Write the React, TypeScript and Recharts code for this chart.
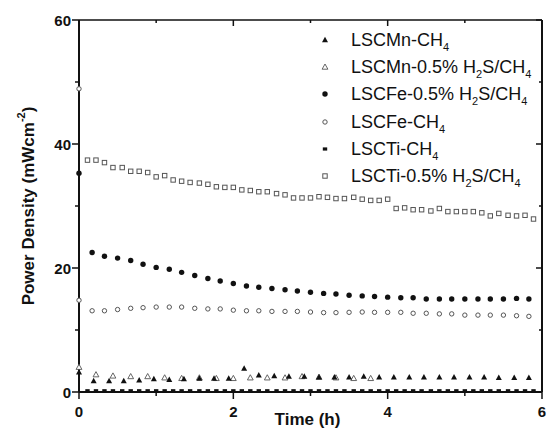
import { ScatterChart, Scatter, XAxis, YAxis } from "recharts";

// time (h) and power density (mW cm-2)
const squareTimes = [
  0.11, 0.22, 0.33, 0.44, 0.56, 0.67, 0.78, 0.89, 1.0, 1.11, 1.22, 1.33, 1.44, 1.56, 1.67, 1.78, 1.89, 2.0,
  2.11, 2.22, 2.33, 2.44, 2.56, 2.67, 2.78, 2.89, 3.0, 3.11, 3.22, 3.33, 3.44, 3.56, 3.67, 3.78, 3.89, 4.0,
  4.11, 4.22, 4.33, 4.44, 4.56, 4.67, 4.78, 4.89, 5.0, 5.11, 5.22, 5.33, 5.44, 5.56, 5.67, 5.78, 5.89,
];
const tiH2sValues = [
  37.4, 37.4, 37.0, 36.2, 36.2, 35.6, 35.6, 35.4, 34.7, 34.9, 34.2, 34.0, 33.8, 33.7, 33.5, 33.1, 33.0, 33.0,
  32.6, 32.5, 32.3, 32.3, 32.0, 31.8, 31.3, 31.3, 31.3, 31.5, 31.4, 31.2, 31.2, 31.4, 31.1, 30.9, 30.9, 31.1,
  29.6, 29.7, 29.4, 29.4, 29.2, 29.6, 29.1, 29.1, 29.1, 29.1, 28.9, 28.4, 28.8, 28.5, 28.4, 28.5, 27.9,
];
const tiCh4Values = [
  0.2, 0.2, 0.2, 0.2, 0.2, 0.2, 0.2, 0.2, 0.2, 0.2, 0.2, 0.2, 0.2, 0.2, 0.2, 0.2, 0.2, 0.2,
  0.2, 0.2, 0.2, 0.2, 0.2, 0.2, 0.2, 0.2, 0.2, 0.2, 0.2, 0.2, 0.2, 0.2, 0.2, 0.2, 0.2, 0.2,
  0.2, 0.2, 0.2, 0.2, 0.2, 0.2, 0.2, 0.2, 0.2, 0.2, 0.2, 0.2, 0.2, 0.2, 0.2, 0.2, 0.2,
];

const feH2sTimes = [
  0, 0.17, 0.33, 0.5, 0.67, 0.83, 1.0, 1.17, 1.33, 1.5, 1.67, 1.83, 2.0, 2.17, 2.33, 2.5, 2.67, 2.83, 3.0,
  3.17, 3.33, 3.5, 3.67, 3.83, 4.0, 4.17, 4.33, 4.5, 4.67, 4.83, 5.0, 5.17, 5.33, 5.5, 5.67, 5.83,
];
const feH2sValues = [
  35.3, 22.5, 21.9, 21.6, 21.2, 20.6, 20.1, 19.8, 19.3, 18.8, 18.3, 17.9, 17.5, 17.1, 16.9, 16.7, 16.5, 16.3, 16.1,
  15.9, 15.8, 15.6, 15.5, 15.4, 15.3, 15.2, 15.2, 15.0, 15.0, 15.0, 15.0, 15.0, 15.0, 15.0, 15.1, 15.0,
];
const feCh4Times = [
  0, 0, 0.17, 0.33, 0.5, 0.67, 0.83, 1.0, 1.17, 1.33, 1.5, 1.67, 1.83, 2.0, 2.17, 2.33, 2.5, 2.67, 2.83, 3.0,
  3.17, 3.33, 3.5, 3.67, 3.83, 4.0, 4.17, 4.33, 4.5, 4.67, 4.83, 5.0, 5.17, 5.33, 5.5, 5.67, 5.83,
];
const feCh4Values = [
  48.9, 14.8, 13.1, 13.1, 13.3, 13.5, 13.6, 13.7, 13.7, 13.7, 13.5, 13.4, 13.4, 13.2, 13.1, 13.1, 13.0, 13.0, 13.0, 12.9,
  12.8, 12.8, 12.85, 12.9, 12.85, 12.85, 12.85, 12.7, 12.7, 12.6, 12.6, 12.4, 12.4, 12.4, 12.4, 12.3, 12.2,
];

const mnCh4Times = [
  0, 0.19, 0.39, 0.58, 0.78, 0.97, 1.17, 1.36, 1.56, 1.75, 1.94, 2.14, 2.33, 2.53, 2.72, 2.92, 3.11,
  3.31, 3.5, 3.69, 3.89, 4.08, 4.28, 4.47, 4.67, 4.86, 5.06, 5.25, 5.44, 5.64, 5.83,
];
const mnCh4Values = [
  3.2, 1.8, 1.8, 1.8, 1.9, 2.1, 2.0, 2.1, 2.2, 2.2, 2.2, 3.8, 2.7, 2.6, 2.5, 2.5, 2.4,
  2.4, 2.4, 2.5, 2.4, 2.4, 2.4, 2.4, 2.4, 2.4, 2.4, 2.4, 2.3, 2.3, 2.3,
];
const mnH2sTimes = [0, 0.22, 0.44, 0.67, 0.89, 1.11, 1.33, 1.56, 1.78, 2.0, 2.22, 2.44, 2.67, 2.89, 3.11, 3.33, 3.56, 3.78];
const mnH2sValues = [4.0, 2.8, 2.6, 2.5, 2.5, 2.3, 2.2, 2.3, 2.2, 2.2, 2.3, 2.3, 2.3, 2.5, 2.4, 2.3, 2.2, 2.2];

const xTicks = [0, 1, 2, 3, 4, 5, 6];
const xLabels = [0, 2, 4, 6];
const yTicks = [0, 10, 20, 30, 40, 50, 60];
const yLabels = [0, 20, 40, 60];

const legendNames = [
  "LSCMn-CH_4",
  "LSCMn-0.5% H_2S/CH_4",
  "LSCFe-0.5% H_2S/CH_4",
  "LSCFe-CH_4",
  "LSCTi-CH_4",
  "LSCTi-0.5% H_2S/CH_4",
];
const legendKinds = ["triFilled", "triOpen", "dotFilled", "dotOpen", "sqFilled", "sqOpen"];

const zip = (ts: number[], vs: number[]) => ts.map((t, i) => ({ t, v: vs[i] }));

const FONT = "'Liberation Sans', Arial, Helvetica, sans-serif";
const INK = "#111";
const GREY = "#555";

// chart layout
const W = 547;
const H = 430;
const MARGIN = { top: 20, right: 5, left: 0, bottom: 0 };
const Y_AXIS_W = 79;
const X_AXIS_H = 38;
const PLOT_W = W - MARGIN.left - MARGIN.right - Y_AXIS_W;
const PLOT_H = H - MARGIN.top - MARGIN.bottom - X_AXIS_H;
const X_MAX = 6;
const Y_MAX = 60;

const Marker = ({ kind, cx, cy }: { kind: string; cx: number; cy: number }) => {
  switch (kind) {
    case "triFilled":
      return <polygon points={`${cx},${cy - 3.2} ${cx + 3},${cy + 2.3} ${cx - 3},${cy + 2.3}`} fill={INK} />;
    case "triOpen":
      return (
        <polygon
          points={`${cx},${cy - 3} ${cx + 2.9},${cy + 2.2} ${cx - 2.9},${cy + 2.2}`}
          fill="#fff"
          stroke={GREY}
          strokeWidth={0.9}
        />
      );
    case "dotFilled":
      return <circle cx={cx} cy={cy} r={2.7} fill={INK} />;
    case "dotOpen":
      return <circle cx={cx} cy={cy} r={2.2} fill="#fff" stroke={GREY} strokeWidth={1} />;
    case "sqFilled":
      return <rect x={cx - 2.2} y={cy - 1.6} width={4.4} height={3.2} fill={INK} />;
    default:
      return <rect x={cx - 2.2} y={cy - 2.2} width={4.4} height={4.4} fill="#fff" stroke={GREY} strokeWidth={1} />;
  }
};

const shapeOf = (kind: string) => (p: any) => <Marker kind={kind} cx={p.cx} cy={p.cy} />;

// bottom ticks plus the mirrored inward ticks on the top edge; the last tick closes the right edge
const BottomTick = ({ x, y, payload }: any) => {
  const major = xLabels.includes(payload.value);
  const top = y - PLOT_H;
  return (
    <g>
      <line x1={x} x2={x} y1={y} y2={y + (major ? 7 : 4)} stroke={INK} strokeWidth={1.5} />
      <line x1={x} x2={x} y1={top} y2={top + (major ? 6 : 3)} stroke={INK} strokeWidth={1.5} />
      {payload.value === X_MAX && <line x1={x} x2={x} y1={y} y2={top} stroke={INK} strokeWidth={2} />}
      {major && (
        <text x={x} y={y + 25} textAnchor="middle" fontFamily={FONT} fontWeight="bold" fontSize={15} fill={INK}>
          {payload.value}
        </text>
      )}
    </g>
  );
};

// left ticks plus the mirrored inward ticks on the right edge; the last tick closes the top edge
const LeftTick = ({ x, y, payload }: any) => {
  const major = yLabels.includes(payload.value);
  const right = x + PLOT_W;
  return (
    <g>
      <line x1={x} x2={x - (major ? 7 : 4)} y1={y} y2={y} stroke={INK} strokeWidth={1.5} />
      <line x1={right} x2={right - (major ? 6 : 3)} y1={y} y2={y} stroke={INK} strokeWidth={1.5} />
      {payload.value === Y_MAX && <line x1={x} x2={right} y1={y} y2={y} stroke={INK} strokeWidth={1.5} />}
      {major && (
        <text
          x={x - 8}
          y={y}
          textAnchor="end"
          dominantBaseline="central"
          fontFamily={FONT}
          fontWeight="bold"
          fontSize={15}
          fill={INK}
        >
          {payload.value}
        </text>
      )}
    </g>
  );
};

const Legend = () => (
  <div style={{ position: "absolute", left: 318, top: 26, fontFamily: FONT, color: INK }}>
    {legendNames.map((name, i) => {
      const parts = name.split(/_(\d)/);
      return (
        <div key={name} style={{ height: 27.3, display: "flex", alignItems: "center" }}>
          <svg width={14} height={14} style={{ flex: "none" }}>
            <Marker kind={legendKinds[i]} cx={7} cy={7} />
          </svg>
          <span style={{ marginLeft: 19, fontSize: 18, whiteSpace: "nowrap", lineHeight: "20px" }}>
            {parts.map((s, j) =>
              j % 2 === 1 ? (
                <sub key={j} style={{ fontSize: 11, verticalAlign: "-5px", lineHeight: 0 }}>
                  {s}
                </sub>
              ) : (
                <span key={j}>{s}</span>
              )
            )}
          </span>
        </div>
      );
    })}
  </div>
);

export default function App() {
  const axisLine = { stroke: INK, strokeWidth: 2 };
  return (
    <div style={{ position: "relative", width: W, height: H }}>
      <style>{`body { margin: 0; } .recharts-surface { overflow: visible; }`}</style>
      <ScatterChart width={W} height={H} margin={MARGIN}>
        <XAxis
          dataKey="t"
          type="number"
          domain={[0, X_MAX]}
          ticks={xTicks}
          interval={0}
          height={X_AXIS_H}
          tickSize={0}
          tickMargin={0}
          tickLine={false}
          axisLine={axisLine}
          tick={<BottomTick />}
          label={({ viewBox }: any) => (
            <text
              x={viewBox.x + viewBox.width / 2 - 3}
              y={viewBox.y + 33}
              textAnchor="middle"
              fontFamily={FONT}
              fontWeight="bold"
              fontSize={17}
              fill={INK}
            >
              Time (h)
            </text>
          )}
        />
        <YAxis
          dataKey="v"
          type="number"
          domain={[0, Y_MAX]}
          ticks={yTicks}
          interval={0}
          width={Y_AXIS_W}
          tickSize={0}
          tickMargin={0}
          tickLine={false}
          axisLine={axisLine}
          tick={<LeftTick />}
          label={({ viewBox }: any) => {
            const cx = viewBox.x + 28;
            const cy = viewBox.y + viewBox.height / 2;
            return (
              <text
                transform={`translate(${cx},${cy}) rotate(-90)`}
                textAnchor="middle"
                dominantBaseline="central"
                fontFamily={FONT}
                fontWeight="bold"
                fontSize={17}
                fill={INK}
              >
                Power Density (mWcm
                <tspan dy={-7} fontSize={11}>
                  -2
                </tspan>
                <tspan dy={7}>)</tspan>
              </text>
            );
          }}
        />
        <Scatter data={zip(squareTimes, tiCh4Values)} shape={shapeOf("sqFilled")} isAnimationActive={false} />
        <Scatter data={zip(squareTimes, tiH2sValues)} shape={shapeOf("sqOpen")} isAnimationActive={false} />
        <Scatter data={zip(feCh4Times, feCh4Values)} shape={shapeOf("dotOpen")} isAnimationActive={false} />
        <Scatter data={zip(feH2sTimes, feH2sValues)} shape={shapeOf("dotFilled")} isAnimationActive={false} />
        <Scatter data={zip(mnH2sTimes, mnH2sValues)} shape={shapeOf("triOpen")} isAnimationActive={false} />
        <Scatter data={zip(mnCh4Times, mnCh4Values)} shape={shapeOf("triFilled")} isAnimationActive={false} />
      </ScatterChart>
      <Legend />
    </div>
  );
}
